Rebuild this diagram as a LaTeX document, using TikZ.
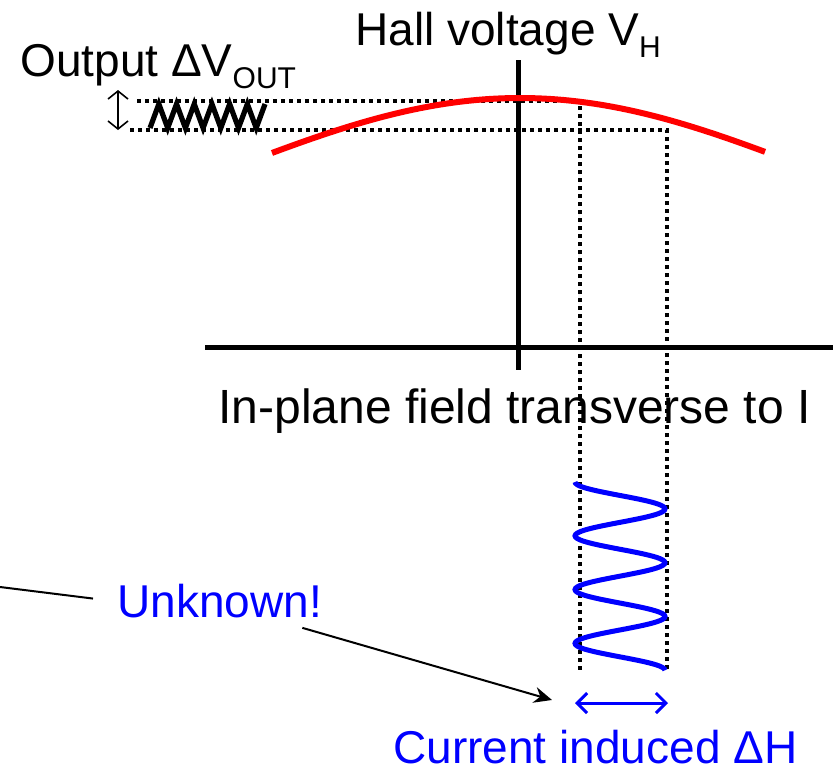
\documentclass[tikz,border=0pt]{standalone}
\usepackage{fontspec}
\setmainfont{Liberation Sans}
\usepackage{tikz}
\usetikzlibrary{arrows.meta,calc}
\newcommand{\lowsub}[1]{\raisebox{-6pt}{\fontsize{15}{18}\selectfont #1}}
\definecolor{curvered}{RGB}{255,0,0}
\definecolor{waveblue}{RGB}{0,0,255}
\tikzset{
  lbl/.style={inner sep=0pt,anchor=base west,font=\fontsize{23}{28}\selectfont},
  bluelbl/.style={lbl,text=waveblue},
  axisline/.style={draw=black,line width=2.5pt},
  dotline/.style={draw=black,line width=2pt,dash pattern=on 2pt off 2pt},
  redcurve/.style={draw=curvered,line width=3pt},
  bluewave/.style={draw=waveblue,line width=2.5pt},
  zigzagline/.style={draw=black,line width=2.6pt},
  spanarrow/.style={{Straight Barb[length=4pt,width=10pt]}-{Straight Barb[length=4pt,width=10pt]},line width=0.8pt},
  dharrow/.style={{Straight Barb[length=5pt,width=10pt]}-{Straight Barb[length=5pt,width=10pt]},draw=waveblue,line width=1.5pt},
  pointer/.style={-{Stealth[length=9pt,width=8pt]},line width=1pt}
}
\begin{document}
\begin{tikzpicture}[x=0.5pt,y=-0.5pt]
  \useasboundingbox (0,0) rectangle (837,772);
  % axes
  \coordinate (ytop) at (518,60);
  \coordinate (ybot) at (518,370);
  \coordinate (xleft) at (205,347);
  \coordinate (xright) at (833,347);
  \draw[axisline] (ytop) -- (ybot);
  \draw[axisline] (xleft) -- (xright);
  % dotted guides
  \draw[dotline] (137,101) -- (580,101) -- (580,670);
  \draw[dotline] (130,130) -- (667,130) -- (667,670);
  % Hall voltage curve
  \draw[redcurve] plot[domain=272:765,samples=80,smooth] (\x,{98+68*(1-cos(deg((\x-520)/180)))});
  % output oscillation
  \draw[zigzagline] (150,128) \foreach \i in {1,...,13}{ -- ({150+\i*8.85},{128-24*mod(\i,2)}) };
  \coordinate (vtop) at (118,90);
  \coordinate (vbot) at (118,130);
  \draw[spanarrow] (vtop) -- (vbot);
  % field oscillation
  \draw[bluewave] plot[domain=0:7,samples=141,smooth] ({620-45*cos(180*\x)},{482+26.9*\x});
  \coordinate (dl) at (575,703);
  \coordinate (dr) at (668,703);
  \draw[dharrow] (dl) -- (dr);
  % labels
  \node[lbl] (hall) at (355,45) {Hall voltage V\lowsub{H}};
  \node[lbl] (output) at (20,76) {Output ΔV\lowsub{OUT}};
  \node[lbl,font=\fontsize{24}{29}\selectfont] (field) at (218,423) {In-plane field transverse to I};
  \node[bluelbl] (unknown) at (117,617) {Unknown!};
  \node[bluelbl] (induced) at (393,763) {Current induced ΔH};
  \coordinate (lfree) at (0,587);
  \draw[line width=1pt] ([shift={(-24,-2)}]unknown.west) -- (lfree);
  \draw[pointer] ([shift={(-20,10)}]unknown.south east) -- ([shift={(-23,-3)}]dl);
\end{tikzpicture}
\end{document}
